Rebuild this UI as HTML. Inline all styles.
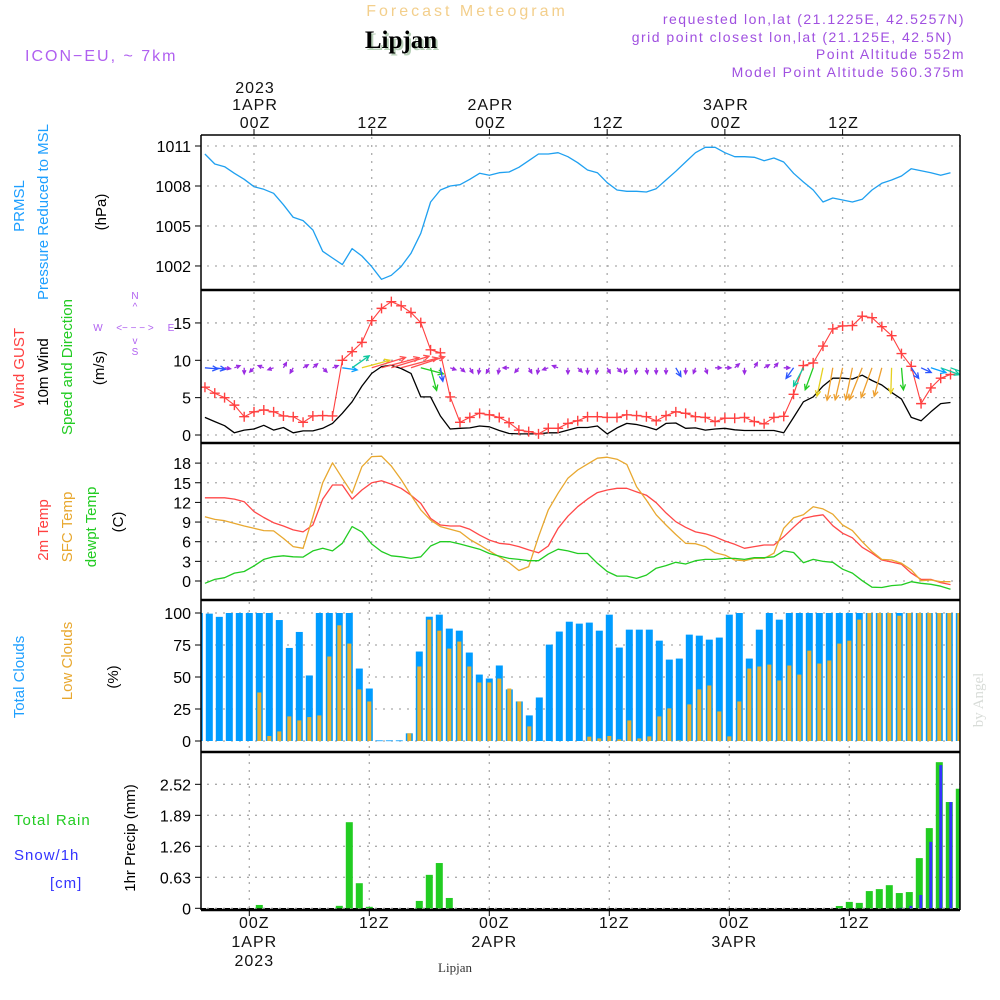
<!DOCTYPE html>
<html><head><meta charset="utf-8">
<style>
html,body{margin:0;padding:0;background:#fff;}
svg{display:block;}
text{font-family:"Liberation Sans",sans-serif;}
</style></head>
<body>
<svg id="chart" width="1000" height="1000" viewBox="0 0 1000 1000" xmlns="http://www.w3.org/2000/svg">
<defs><clipPath id="plotclip"><rect x="201" y="135" width="759" height="775"/></clipPath></defs>
<g id="header">
<text x="467" y="16" text-anchor="middle" font-size="16" fill="#f3cf8c" letter-spacing="3">Forecast Meteogram</text>
<text x="403" y="50" text-anchor="middle" font-size="25" font-weight="bold" fill="#b8d0b8" style="font-family:'Liberation Serif',serif">Lipjan</text>
<text x="401" y="48" text-anchor="middle" font-size="25" font-weight="bold" fill="#000" style="font-family:'Liberation Serif',serif">Lipjan</text>
<text x="25" y="61" font-size="16" fill="#b060f0" letter-spacing="2">ICON−EU, ~ 7km</text>
<text x="965" y="24" text-anchor="end" font-size="14" fill="#a050e0" letter-spacing="1.5">requested lon,lat (21.1225E, 42.5257N)</text>
<text x="953" y="42" text-anchor="end" font-size="14" fill="#a050e0" letter-spacing="1.5">grid point closest lon,lat (21.125E, 42.5N)</text>
<text x="965" y="59" text-anchor="end" font-size="14" fill="#a050e0" letter-spacing="1.5">Point Altitude 552m</text>
<text x="965" y="77" text-anchor="end" font-size="14" fill="#a050e0" letter-spacing="1.5">Model Point Altitude 560.375m</text>
</g>
<g id="labels" font-size="15">
<text transform="translate(24,206) rotate(-90)" text-anchor="middle" fill="#1e9fff">PRMSL</text>
<text transform="translate(48,212) rotate(-90)" text-anchor="middle" fill="#1e9fff">Pressure Reduced to MSL</text>
<text transform="translate(106,212) rotate(-90)" text-anchor="middle" fill="#000">(hPa)</text>
<text transform="translate(24,368) rotate(-90)" text-anchor="middle" fill="#ff4040">Wind GUST</text>
<text transform="translate(48,372) rotate(-90)" text-anchor="middle" fill="#000">10m Wind</text>
<text transform="translate(72,367) rotate(-90)" text-anchor="middle" fill="#22cc22">Speed and Direction</text>
<text transform="translate(104,368) rotate(-90)" text-anchor="middle" fill="#000">(m/s)</text>
<g font-size="10" fill="#b060f0">
<text x="135" y="299" text-anchor="middle">N</text><text x="135" y="310" text-anchor="middle">^</text>
<text x="98" y="331" text-anchor="middle">W</text><text x="135" y="331" text-anchor="middle">&lt;− − − &gt;</text>
<text x="171" y="331" text-anchor="middle">E</text>
<text x="135" y="344" text-anchor="middle">v</text><text x="135" y="355" text-anchor="middle">S</text>
</g>
<text transform="translate(48,530) rotate(-90)" text-anchor="middle" fill="#ff4040">2m Temp</text>
<text transform="translate(72,527) rotate(-90)" text-anchor="middle" fill="#e8a830">SFC Temp</text>
<text transform="translate(96,527) rotate(-90)" text-anchor="middle" fill="#22cc22">dewpt Temp</text>
<text transform="translate(123,522) rotate(-90)" text-anchor="middle" fill="#000">(C)</text>
<text transform="translate(24,677) rotate(-90)" text-anchor="middle" fill="#1e9fff">Total Clouds</text>
<text transform="translate(72,661) rotate(-90)" text-anchor="middle" fill="#e8a830">Low Clouds</text>
<text transform="translate(118,677) rotate(-90)" text-anchor="middle" fill="#000">(%)</text>
<text x="14" y="825" fill="#22cc22" letter-spacing="1">Total  Rain</text>
<text x="14" y="860" fill="#3333ff" letter-spacing="1">Snow/1h</text>
<text x="50" y="888" fill="#3333ff" letter-spacing="1">[cm]</text>
<text transform="translate(135,838) rotate(-90)" text-anchor="middle" fill="#000">1hr Precip (mm)</text>
<text transform="translate(983,700) rotate(-90)" text-anchor="middle" fill="#d8dcd8" style="font-family:'Liberation Serif',serif">by Angel</text>
<text x="455" y="972" text-anchor="middle" font-size="13" fill="#333" style="font-family:'Liberation Serif',serif">Lipjan</text>
</g>
<g id="grid"></g>
<g id="marks" clip-path="url(#plotclip)"></g>
<g id="frame"></g>
</svg>
<script>
// ---- data (hourly, h = -5 .. 71, h=0 is 00Z 1APR) ----
const hours = [];
for (let h = -5; h <= 71; h++) hours.push(h);
const pressure = [1010.4,1009.65,1009.45,1008.95,1008.5,1007.95,1007.75,1007.45,1006.6,1005.65,1005.4,1004.7,1003.1,1002.6,1002.1,1003.3,1002.75,1001.95,1001.0,1001.3,1001.95,1002.95,1004.45,1006.8,1007.7,1008.0,1008.1,1008.5,1008.95,1008.8,1009.0,1009.05,1009.4,1009.9,1010.4,1010.4,1010.5,1010.2,1009.75,1009.2,1009.0,1008.25,1007.7,1007.6,1007.6,1007.55,1007.8,1008.45,1009.1,1009.8,1010.5,1010.9,1010.9,1010.5,1010.2,1010.2,1010.15,1009.9,1010.1,1009.8,1008.95,1008.3,1007.7,1006.8,1007.1,1006.95,1006.8,1007.0,1007.7,1008.2,1008.45,1008.75,1009.3,1009.15,1009.0,1008.8,1009.0];
const gust = [6.4,5.6,5.0,4.0,2.45,3.1,3.35,3.1,2.55,2.45,1.7,2.55,2.6,2.55,10.0,11.15,12.4,15.3,16.95,17.85,17.3,16.4,15.05,11.4,11.0,5.1,1.7,2.35,2.9,2.7,2.35,1.65,0.65,0.45,0.15,0.9,0.9,1.55,1.9,2.45,2.45,2.35,2.35,2.7,2.6,2.45,1.9,2.6,3.1,2.9,2.45,2.35,1.8,2.25,2.25,2.35,1.8,1.5,2.35,2.5,5.45,9.3,9.65,11.9,14.2,14.6,14.65,15.9,15.7,14.5,13.3,10.9,9.2,4.2,6.3,7.6,8.1];
const wind = [2.35,1.8,1.25,0.3,0.65,0.8,1.3,0.65,1.0,0.3,0.55,0.55,0.9,1.55,2.9,4.45,6.55,8.25,9.15,9.35,8.9,8.25,5.1,5.1,2.55,0.8,0.9,0.95,1.2,1.1,0.6,0.2,0.15,0.15,0.15,0.3,0.3,0.65,1.0,1.0,1.2,0.15,0.95,1.55,1.4,1.1,0.7,1.55,1.6,0.9,0.95,0.65,0.8,0.9,0.7,0.6,0.6,0.6,0.6,0.3,2.35,4.45,5.1,6.55,7.6,7.6,7.5,8.0,7.3,6.7,5.7,4.8,2.35,1.9,3.1,4.2,4.35];
const windDir = [5,8,10,-20,90,135,200,160,-60,120,-30,-40,45,-20,8,-35,-15,-17,-15,-17,-15,-18,15,75,80,20,40,60,100,120,100,180,130,60,100,160,200,90,45,90,100,60,45,110,100,80,90,90,60,90,110,70,0,0,-40,90,-60,-30,-50,0,125,118,110,102,100,103,102,112,110,105,92,85,55,25,18,20,20];
const temp2m = [12.7,12.7,12.7,12.5,12.1,10.6,9.7,8.9,8.4,7.8,7.5,8.55,12.5,14.65,14.65,12.5,13.9,15.0,15.3,14.8,14.15,13.1,11.85,9.55,8.55,8.4,8.4,7.9,7.0,6.25,5.75,5.6,5.25,4.75,4.3,5.35,8.05,9.9,11.35,12.5,13.5,13.9,14.15,14.15,13.6,13.1,11.95,10.4,9.05,8.2,7.5,7.2,6.75,6.1,5.6,5.0,5.25,5.5,5.5,6.75,8.2,9.55,9.9,10.1,8.45,7.3,6.6,5.15,4.25,3.2,2.9,2.55,1.2,0.25,0.25,-0.25,-0.55];
const tempSfc = [9.8,9.4,9.2,8.8,8.4,8.05,7.7,7.65,6.5,5.25,5.0,9.8,15.0,18.05,15.7,13.4,17.45,19.0,19.05,17.55,15.5,13.1,10.85,9.3,8.3,7.9,7.5,6.35,5.5,4.6,3.7,2.8,1.6,2.2,6.75,10.85,13.4,15.7,16.95,17.85,18.75,18.9,18.6,17.8,14.4,12.35,10.1,8.55,7.1,5.75,5.7,5.25,4.3,3.95,3.2,3.1,3.45,3.45,4.25,8.05,9.65,10.1,11.35,11.0,10.2,8.55,7.7,6.0,4.5,3.3,3.2,2.7,1.7,0.05,0.15,-0.1,-0.1];
const dewpt = [-0.35,0.25,0.5,1.2,1.45,2.3,3.3,3.7,3.85,3.7,3.65,4.6,5.0,4.6,5.75,8.3,7.5,5.65,4.5,3.85,3.7,3.45,3.7,5.35,6.0,6.0,5.65,5.25,4.85,4.2,3.8,3.45,3.3,3.1,3.1,4.1,4.85,4.6,4.2,4.2,2.7,1.45,0.75,0.75,0.4,0.9,1.95,2.35,2.85,2.6,3.1,3.3,3.3,3.45,3.45,3.3,3.55,3.55,3.7,4.6,4.35,2.8,3.3,3.0,2.85,1.8,1.2,0.05,-0.95,-1.0,-0.7,-0.6,-0.1,-0.35,-0.5,-0.8,-1.25];
const totalClouds = [100,99.5,97,100,100,100,100,100,94.5,72.7,85.2,51.2,100,100,100,100,56.6,41,0.5,0.5,0.5,6,69.9,97.1,98.7,87.8,86.2,69.1,51.9,48.8,59,40.3,30.9,20,34,75.3,85.5,93.2,91.7,92.5,86.2,98.7,73,87,87,87,78.4,63.6,64.4,83.1,82.3,79.2,80.8,98.7,100,64.4,87,100,94.8,100,100,100,100,100,100,100,100,100,100,100,100,100,100,100,100,100,100];
const lowClouds = [0,0,0,0,0,0,37.9,3.9,7.5,19.2,16.1,18.7,20,66,90.4,76.1,40.3,30.9,0,0,0,6,58.2,94.8,86.2,72.2,77.7,58.2,45.7,45.7,48.8,41,30.9,11.4,0,0,0,0,0,3.4,2,3.9,1.3,16.1,2,3.6,19.2,25.5,0.5,28.6,40.3,43.4,23.1,3.6,30.9,56.6,58.2,59.7,47.3,59,51.9,70.6,60.5,62.9,76.1,78.4,94.8,100,100,100,97.9,100,100,100,100,100,100];
const rain = [0,0,0,0,0,0,0.068,0,0,0,0,0,0,0,0.05,1.75,0.51,0.03,0,0,0,0,0.15,0.68,0.92,0.21,0,0,0,0,0,0,0,0,0,0,0,0,0,0,0,0,0,0,0,0,0,0,0,0,0,0,0,0,0,0,0,0,0,0,0,0,0,0,0.047,0.13,0.11,0.35,0.39,0.47,0.31,0.33,1.02,1.63,2.97,2.16,2.43];
const snow = [0,0,0,0,0,0,0,0,0,0,0,0,0,0,0,0,0,0,0,0,0,0,0,0,0,0,0,0,0,0,0,0,0,0,0,0,0,0,0,0,0,0,0,0,0,0,0,0,0,0,0,0,0,0,0,0,0,0,0,0,0,0,0,0,0,0,0,0,0,0,0.01,0.05,0.27,1.35,2.91,2.16,2.43];
const pTicks = [1011,1008,1005,1002];
const wTicks = [0,5,10,15];
const tTicks = [0,3,6,9,12,15,18];
const cTicks = [0,25,50,75,100];
const rTicks = [0,0.63,1.26,1.89,2.52];
const rTickLabels = ["0","0.63","1.26","1.89","2.52"];
const gridHours = [0,12,24,36,48,60];
const topLabels = [["2023","1APR","00Z"],["","","12Z"],["","2APR","00Z"],["","","12Z"],["","3APR","00Z"],["","","12Z"]];
const bottomLabels = [["00Z","1APR","2023"],["12Z","",""],["00Z","2APR",""],["12Z","",""],["00Z","3APR",""],["12Z","",""]];

// ---- axis functions ----
const L = 201, R = 960;
const X = h => 254 + 9.81 * h;
const XB = h => 249.3 + 10 * h;
const yP = p => 146 + (1011 - p) * 13.33;
const yW = v => 435 - v * 7.47;
const yT = t => 581 - t * 6.55;
const yC = c => 741 - c * 1.28;
const yR = r => 908.3 - r * 49.2;
const panels = [[135,290],[290,443],[443,600],[600,752],[752,910]];

const NS = "http://www.w3.org/2000/svg";
function mk(tag, attrs, parent) {
  const e = document.createElementNS(NS, tag);
  for (const k in attrs) e.setAttribute(k, attrs[k]);
  parent.appendChild(e);
  return e;
}
const grid = document.getElementById('grid');
const marks = document.getElementById('marks');
const frame = document.getElementById('frame');
const dot = {stroke:"#aaa","stroke-width":1.3,"stroke-dasharray":"2,6"};

function hGrid(ticks, yf, labels, name) {
  ticks.forEach((t, i) => {
    const y = yf(t);
    const ln = mk('line', Object.assign({x1:L+6,x2:R,y1:y,y2:y}, dot), grid);
    
    
    mk('line', {x1:L-6,x2:L,y1:y,y2:y,stroke:"#000","stroke-width":1}, grid);
    const tx = mk('text', {x:L-10,y:y+6,"text-anchor":"end","font-size":16,fill:"#000"}, grid);
    tx.textContent = labels ? labels[i] : String(t);
    
    
  });
}
hGrid(pTicks, yP, null, 'pressure');
hGrid(wTicks, yW, null, 'wind');
hGrid(tTicks, yT, null, 'temp');
hGrid(cTicks, yC, null, 'cloud');
hGrid(rTicks, yR, rTickLabels, 'precip');

gridHours.forEach(h => {
  [0,1,2].forEach(i => {
    const v = mk('line', Object.assign({x1:X(h),x2:X(h),y1:panels[i][0]+2,y2:panels[i][1]}, dot), grid);
    
    
  });
  [3,4].forEach(i => {
    const v = mk('line', Object.assign({x1:XB(h),x2:XB(h),y1:panels[i][0]+2,y2:panels[i][1]}, dot), grid);
    
    
  });
});
gridHours.forEach((h, i) => {
  const x = X(h);
  mk('line', {x1:x,x2:x,y1:129,y2:135,stroke:"#000"}, grid);
  const ys = [93,110,128];
  topLabels[i].forEach((s, j) => {
    if (!s) return;
    const t = mk('text', {x:x+1,y:ys[j],"text-anchor":"middle","font-size":16,fill:"#111","letter-spacing":1}, grid);
    t.textContent = s;
    
    
  });
  const xb = XB(h) + 5;
  mk('line', {x1:XB(h),x2:XB(h),y1:910,y2:916,stroke:"#000"}, grid);
  const yb = [928,947,966];
  bottomLabels[i].forEach((s, j) => {
    if (!s) return;
    const t = mk('text', {x:xb,y:yb[j],"text-anchor":"middle","font-size":16,fill:"#111","letter-spacing":1}, grid);
    t.textContent = s;
    
    
  });
});

function line(vals, yf, color, name, w) {
  const pts = vals.map((v, i) => X(hours[i]).toFixed(1) + ',' + yf(v).toFixed(1)).join(' ');
  const pl = mk('polyline', {points:pts,fill:"none",stroke:color,"stroke-width":w||1.3,"stroke-linejoin":"round"}, marks);
  
  
}
line(pressure, yP, "#1fa0f0", 'pressure-line');
line(wind, yW, "#000", 'wind-speed-line');
line(gust, yW, "#ff4040", 'wind-gust-line', 1.1);
gust.forEach((g, i) => {
  const x = X(hours[i]), y = yW(g);
  const c = mk('path', {d:`M${x-5},${y}H${x+5}M${x},${y-5}V${y+5}`,stroke:"#ff4040","stroke-width":1.4}, marks);
  
  
});
function windColor(s) {
  if (s < 1.6) return "#9a2be2";
  if (s < 2.6) return "#2b55ff";
  if (s < 3.6) return "#0aa0ff";
  if (s < 4.6) return "#10c8a0";
  if (s < 5.6) return "#22cc22";
  if (s < 6.6) return "#e6d020";
  if (s < 8.1) return "#eea030";
  return "#ff5050";
}
wind.forEach((s, i) => {
  const x0 = X(hours[i]), y0 = yW(9.0);
  const len = s < 1.6 ? 6 : 4 + s * 3.8;
  const a = windDir[i] * Math.PI / 180;
  const x1 = x0 + len * Math.cos(a), y1 = y0 + len * Math.sin(a);
  const hl = s < 1.6 ? 4 : 6;
  const a1 = a + Math.PI - 0.45, a2 = a + Math.PI + 0.45;
  const col = windColor(s);
  const d = `M${x0.toFixed(1)},${y0.toFixed(1)}L${x1.toFixed(1)},${y1.toFixed(1)}M${(x1+hl*Math.cos(a1)).toFixed(1)},${(y1+hl*Math.sin(a1)).toFixed(1)}L${x1.toFixed(1)},${y1.toFixed(1)}L${(x1+hl*Math.cos(a2)).toFixed(1)},${(y1+hl*Math.sin(a2)).toFixed(1)}`;
  const p = mk('path', {d:d,stroke:col,"stroke-width":1.3,fill:"none"}, marks);
  
  
});
line(temp2m, yT, "#ff4848", 'temp-2m-line');
line(tempSfc, yT, "#e8a830", 'temp-sfc-line');
line(dewpt, yT, "#22cc22", 'dewpoint-line');

totalClouds.forEach((c, i) => {
  const x = XB(hours[i]);
  const b = mk('rect', {x:x-3.5,y:yC(c),width:7,height:Math.max(741-yC(c),0.8),fill:"#009cff"}, marks);
  
  
  const lc = lowClouds[i];
  if (lc > 0) {
    const o = mk('rect', {x:x-2,y:yC(lc),width:4,height:741-yC(lc),fill:"#e8b030"}, marks);
    
    
  }
});
mk('line', {x1:L,x2:R,y1:908.5,y2:908.5,stroke:"#000","stroke-width":1,"stroke-dasharray":"5,3"}, marks);
rain.forEach((r, i) => {
  const x = XB(hours[i]);
  if (r > 0) {
    const b = mk('rect', {x:x-3.5,y:yR(r),width:7,height:908.3-yR(r),fill:"#22cc22"}, marks);
    
    
  }
  const s = snow[i];
  if (s > 0) {
    const sb = mk('rect', {x:x,y:yR(s),width:3,height:908.3-yR(s),fill:"#3333ff"}, marks);
    
    
  }
});

mk('line', {x1:L,x2:R,y1:135,y2:135,stroke:"#000","stroke-width":1.5}, frame);
[290,443,600,752,910].forEach(y => mk('line', {x1:L,x2:R,y1:y,y2:y,stroke:"#000","stroke-width":2.5}, frame));
mk('line', {x1:L,x2:L,y1:135,y2:910,stroke:"#000","stroke-width":1.5}, frame);
mk('line', {x1:R,x2:R,y1:135,y2:910,stroke:"#000","stroke-width":1.5}, frame);
</script>
</body></html>
